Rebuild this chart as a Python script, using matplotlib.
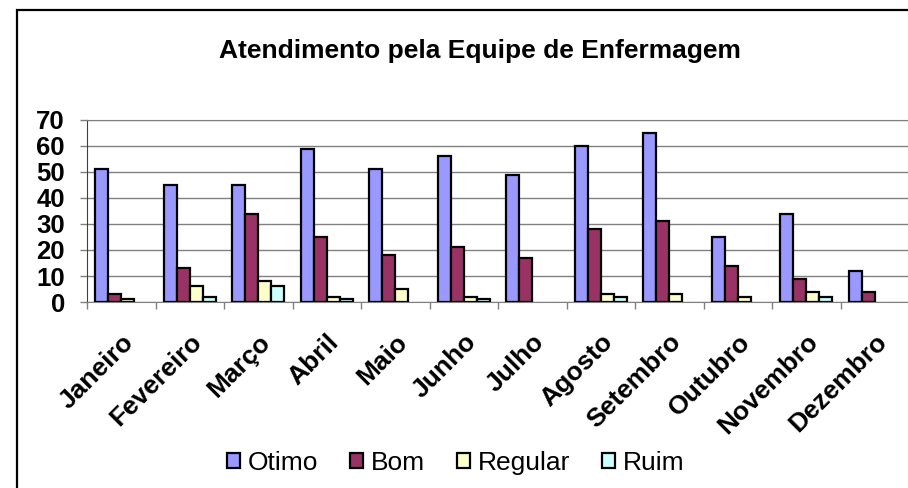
import numpy as np
import matplotlib.pyplot as plt
from matplotlib.patches import Rectangle

plt.rcParams['font.family'] = ['Liberation Sans', 'DejaVu Sans']

## Data
meses = ['Janeiro', 'Fevereiro', 'Março', 'Abril', 'Maio', 'Junho',
         'Julho', 'Agosto', 'Setembro', 'Outubro', 'Novembro', 'Dezembro']
otimo = [51, 45, 45, 59, 51, 56, 49, 60, 65, 25, 34, 12]
bom = [3, 13, 34, 25, 18, 21, 17, 28, 31, 14, 9, 4]
regular = [1, 6, 8, 2, 5, 2, 0, 3, 3, 2, 4, 0]
ruim = [0, 2, 6, 1, 0, 1, 0, 2, 0, 0, 2, 0]

series = [('Otimo', otimo, '#9999FF'), ('Bom', bom, '#993366'),
          ('Regular', regular, '#FFFFCC'), ('Ruim', ruim, '#CCFFFF')]

fig = plt.figure(figsize=(9.08, 4.88), dpi=100)

# outer chart border (extends past right/bottom edge)
fig.patches.append(Rectangle((17/908, -0.1), 1.2, 1.1 - 10/488, transform=fig.transFigure,
                             fill=False, edgecolor='black', linewidth=1.6))

ax = fig.add_axes([87/908, 1-302/488, 822/908, 182/488])

x = np.arange(len(meses))
w = 0.19
for i, (name, vals, col) in enumerate(series):
    h = np.array(vals, dtype=float)
    h[h == 0] = np.nan  # zero bars are not drawn in the original
    ax.bar(x + (i - 1.5) * w, h, w, color=col, edgecolor='black', linewidth=1.6,
           label=name, zorder=3)

ax.set_xlim(-0.5, 11.5)
ax.set_ylim(0, 70)
ax.set_yticks(range(0, 71, 10))
ax.yaxis.grid(True, color='#808080', linewidth=1)
ax.tick_params(axis='y', length=5, width=1, color='#808080', pad=11, labelsize=18.5)
for t in ax.get_yticklabels():
    t.set_fontweight('bold')

ax.set_xticks(x)
ax.set_xticklabels(meses, rotation=45, ha='right', rotation_mode='anchor',
                   fontsize=19, fontweight='bold')
ax.set_xticks(np.arange(-0.5, 12, 1), minor=True)
ax.tick_params(axis='x', which='major', length=0, pad=20)
ax.tick_params(axis='x', which='minor', length=5, width=1, color='#808080')

for s in ['top', 'right']:
    ax.spines[s].set_color('#808080')
ax.spines['left'].set_color('#404040')
ax.spines['bottom'].set_color('#808080')

fig.text(480/908, 1-51/488, 'Atendimento pela Equipe de Enfermagem', ha='center', va='center',
         fontsize=19, fontweight='bold')

fig.legend(loc='center', bbox_to_anchor=(456/908, 1-463/488), ncol=4, frameon=False,
           fontsize=19, handlelength=0.5, handleheight=0.5, handletextpad=0.3,
           columnspacing=1.2, borderpad=0)

plt.savefig('out.png', dpi=100)
